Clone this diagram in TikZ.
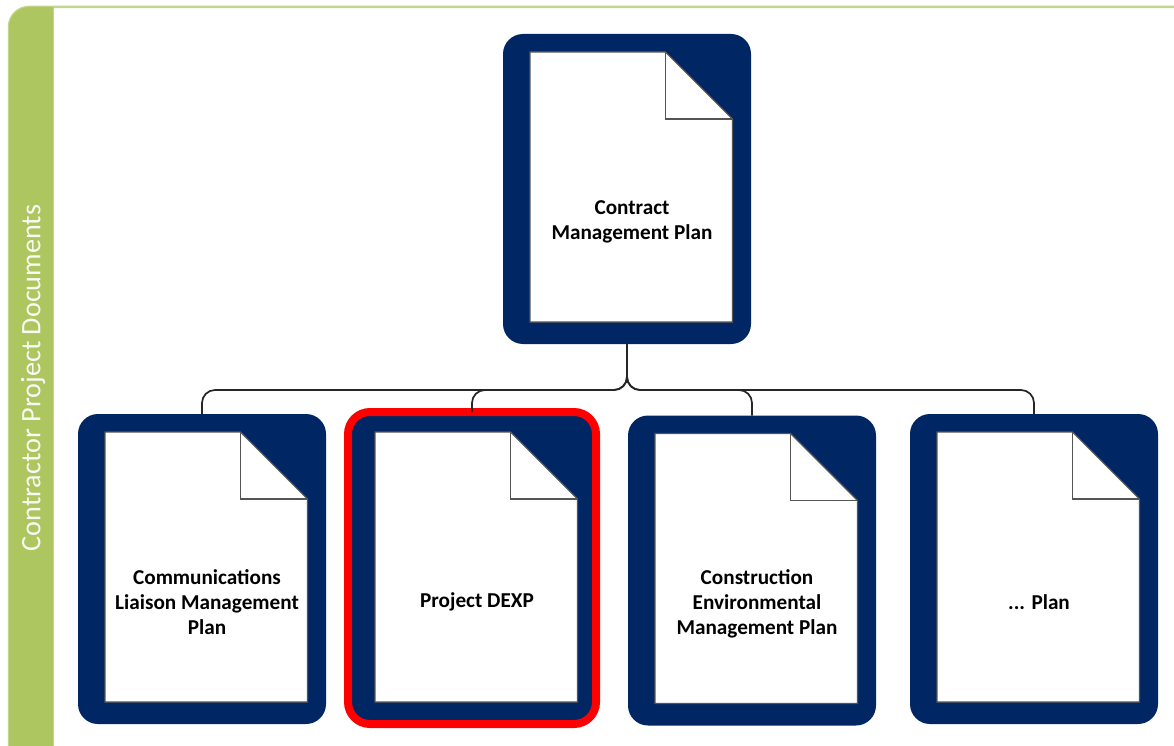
\documentclass[tikz,border=0pt]{standalone}
\usepackage{fontspec}
\setmainfont{Carlito}
\definecolor{planblue}{HTML}{002663}
\definecolor{sidegreen}{HTML}{AEC65F}
\definecolor{panelgreen}{HTML}{C3D68E}
\definecolor{pageline}{HTML}{555555}
\tikzset{
    docbox/.style={fill=planblue, rounded corners=20pt, minimum width=248pt, minimum height=310pt, inner sep=0pt, outer sep=0pt},
    selectbox/.style={docbox, minimum height=312pt, yshift=1pt, draw=red, line width=8pt, rounded corners=22pt},
    doctext/.style={align=center, font=\fontsize{21.2}{25}\selectfont\bfseries, text=black, inner sep=0pt},
    connector/.style={draw=black!85, line width=1.7pt, rounded corners=13pt}
}

\begin{document}
\begin{tikzpicture}[x=1pt, y=-1pt]
    \useasboundingbox (0,0) rectangle (1174,746);
    \clip (0,0) rectangle (1174,746);
    \fill[white] (0,0) rectangle (1174,746);
    % side panel
    \draw[panelgreen, line width=2.5pt, rounded corners=20pt] (9,7) rectangle (1200,800);
    \begin{scope}
        \clip (0,0) rectangle (53,746);
        \fill[sidegreen, rounded corners=20pt] (9,7) rectangle (100,800);
    \end{scope}
    \draw[panelgreen, line width=1.5pt] (53.5,8) -- (53.5,746);
    \node (sidelabel) [rotate=90, text=white!92!sidegreen, font=\fontsize{28.2}{30}\selectfont, inner sep=0pt] at (33,378) {Contractor Project Documents};
    % boxes with their pages
    \foreach \name/\x/\y/\boxstyle/\label in {
        plan/627/189/docbox/{Contract\\Management Plan},
        comms/202/569/docbox/{Communications\\Liaison Management\\Plan},
        dexp/472/569/selectbox/{Project DEXP},
        environ/752/570.5/docbox/{Construction\\Environmental\\Management Plan},
        other/1034/569/docbox/{... Plan}} {
        \node (\name) [\boxstyle] at (\x,\y) {};
        \draw[pageline, line width=1.2pt, fill=white] (\x-97,\y-137) -- (\x+38.5,\y-137) -- (\x+105.5,\y-70) -- (\x+105.5,\y+133) -- (\x-97,\y+133) -- cycle;
        \draw[pageline, line width=1.2pt] (\x+38.5,\y-137) -- (\x+38.5,\y-70) -- (\x+105.5,\y-70);
        \node (\name text) [doctext] at (\x+5,\y+33) {\label};
    }
    % tree
    \coordinate (bus) at (0,390);
    \draw[connector] (plan.south) |- (bus -| comms.north) -- (comms.north);
    \draw[connector] (plan.south) |- (bus -| dexp.north) -- (dexp.north);
    \draw[connector] (plan.south) |- (bus -| environ.north) -- (environ.north);
    \draw[connector] (plan.south) |- (bus -| other.north) -- (other.north);
\end{tikzpicture}
\end{document}
